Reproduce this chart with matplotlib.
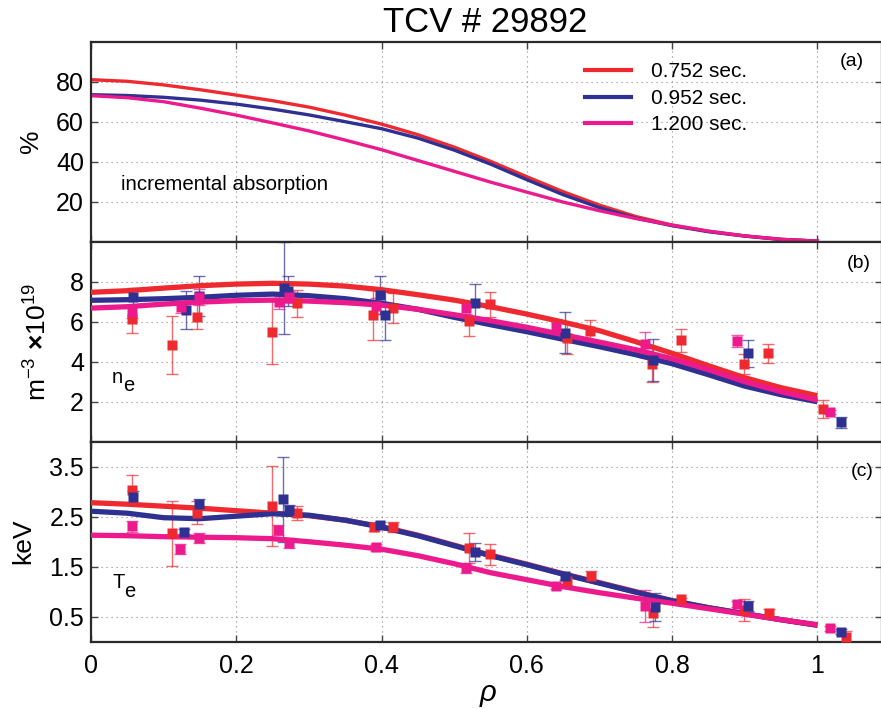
import matplotlib
matplotlib.use("Agg")
import matplotlib.pyplot as plt

plt.rcParams["font.family"] = ["Liberation Sans", "DejaVu Sans"]
plt.rcParams["mathtext.fontset"] = "custom"
plt.rcParams["mathtext.rm"] = "Liberation Sans"
plt.rcParams["mathtext.it"] = "Liberation Sans:italic"
plt.rcParams["mathtext.bf"] = "Liberation Sans:bold"

RED, BLUE, MAG = "#EE2A30", "#2E3192", "#EC1A8C"
times = ["0.752 sec.", "0.952 sec.", "1.200 sec."]

# radial grid for the smoothed profiles
rho = [0, 0.05, 0.1, 0.15, 0.2, 0.25, 0.3, 0.35, 0.4, 0.45, 0.5,
       0.55, 0.6, 0.65, 0.7, 0.75, 0.8, 0.85, 0.9, 0.95, 1.0]

# (a) incremental absorption, %
abs_752 = [81, 80.2, 78.4, 76.0, 73.3, 70.5, 67.3, 63.3, 58.8, 53.5, 47.3,
           40.2, 32.5, 25.0, 18.3, 12.6, 8.3, 5.2, 2.9, 1.2, 0.3]
abs_952 = [73.5, 73.1, 72.2, 70.8, 68.8, 66.3, 63.4, 60.0, 56.5, 51.8, 45.8,
           38.8, 31.0, 23.5, 17.0, 11.8, 8.0, 5.0, 2.8, 1.1, 0.3]
abs_1200 = [73.0, 72.0, 70.0, 66.8, 63.3, 59.4, 55.4, 50.8, 46.0, 40.6, 35.2,
            29.8, 24.8, 19.8, 15.5, 11.6, 8.3, 5.3, 2.9, 1.2, 0.3]

# (b) density fits, 1e19 m^-3
ne_752 = [7.47, 7.55, 7.68, 7.8, 7.88, 7.92, 7.88, 7.78, 7.6, 7.35, 7.08,
          6.75, 6.38, 5.98, 5.55, 5.0, 4.42, 3.8, 3.2, 2.7, 2.3]
ne_952 = [7.07, 7.1, 7.15, 7.22, 7.32, 7.38, 7.3, 7.15, 6.92, 6.62, 6.22,
          5.85, 5.5, 5.12, 4.75, 4.35, 3.9, 3.35, 2.78, 2.35, 2.0]
ne_1200 = [6.68, 6.75, 6.88, 6.98, 7.05, 7.08, 7.03, 6.95, 6.83, 6.62, 6.35,
           6.05, 5.72, 5.35, 4.98, 4.6, 4.15, 3.6, 3.0, 2.5, 2.08]

# (c) temperature fits, keV
te_752 = [2.78, 2.75, 2.71, 2.67, 2.62, 2.57, 2.52, 2.43, 2.3, 2.13, 1.93,
          1.73, 1.55, 1.36, 1.18, 1.0, 0.82, 0.68, 0.56, 0.44, 0.33]
te_952 = [2.61, 2.57, 2.48, 2.46, 2.51, 2.56, 2.53, 2.43, 2.29, 2.12, 1.92,
          1.72, 1.54, 1.35, 1.17, 0.99, 0.82, 0.68, 0.56, 0.44, 0.33]
te_1200 = [2.13, 2.12, 2.1, 2.09, 2.08, 2.06, 2.0, 1.93, 1.85, 1.72, 1.56,
           1.38, 1.24, 1.1, 0.98, 0.87, 0.77, 0.66, 0.55, 0.44, 0.34]

# Thomson measurements: ne
ne_x_752 = [0.057, 0.111, 0.1455, 0.249, 0.283, 0.388, 0.416, 0.521, 0.549,
            0.656, 0.687, 0.773, 0.812, 0.8995, 0.9326, 1.008]
ne_pts_752 = [6.12, 4.84, 6.25, 5.47, 6.92, 6.33, 6.67, 6.03, 6.87,
              5.2, 5.55, 3.88, 5.08, 3.88, 4.42, 1.62]
ne_err_752 = [0.7, 1.44, 0.63, 1.58, 0.66, 1.25, 0.75, 0.73, 0.64,
              0.8, 0.55, 0.9, 0.57, 0.5, 0.46, 0.45]
ne_x_952 = [0.058, 0.131, 0.149, 0.2657, 0.2717, 0.398, 0.405, 0.528,
            0.6526, 0.774, 0.905, 1.0326]
ne_pts_952 = [7.22, 6.59, 7.3, 7.7, 7.55, 7.33, 6.33, 6.92, 5.45, 4.08, 4.42, 0.97]
ne_err_952 = [0.45, 0.95, 1.0, 2.3, 0.75, 0.95, 1.25, 0.95, 1.02, 1.04, 0.67, 0.29]
ne_x_1200 = [0.057, 0.1235, 0.149, 0.259, 0.273, 0.392, 0.516, 0.64,
             0.763, 0.89, 1.018]
ne_pts_1200 = [6.5, 6.75, 7.25, 6.99, 7.25, 6.78, 6.7, 5.75, 4.87, 5.03, 1.47]
ne_err_1200 = [0.3, 0.3, 0.4, 0.35, 0.3, 0.4, 0.3, 0.3, 0.63, 0.3, 0.1]

# Thomson measurements: Te
te_x_752 = [0.057, 0.112, 0.1455, 0.249, 0.283, 0.39, 0.416, 0.52, 0.549,
            0.656, 0.688, 0.774, 0.812, 0.899, 0.933, 1.039]
te_pts_752 = [3.03, 2.17, 2.58, 2.71, 2.57, 2.29, 2.29, 1.87, 1.75,
              1.22, 1.31, 0.57, 0.85, 0.63, 0.58, 0.1]
te_err_752 = [0.3, 0.65, 0.23, 0.8, 0.14, 0.08, 0.1, 0.3, 0.21,
              0.1, 0.1, 0.28, 0.03, 0.22, 0.08, 0.12]
te_x_952 = [0.058, 0.128, 0.149, 0.265, 0.273, 0.398, 0.528, 0.6526,
            0.7765, 0.905, 1.0326]
te_pts_952 = [2.89, 2.2, 2.75, 2.85, 2.63, 2.33, 1.8, 1.31, 0.7, 0.72, 0.2]
te_err_952 = [0.13, 0.05, 0.1, 0.85, 0.1, 0.07, 0.18, 0.07, 0.28, 0.1, 0.05]
te_x_1200 = [0.057, 0.1225, 0.149, 0.258, 0.273, 0.392, 0.516, 0.64,
             0.763, 0.89, 1.0174]
te_pts_1200 = [2.31, 1.86, 2.08, 2.23, 1.97, 1.89, 1.47, 1.11, 0.72, 0.75, 0.27]
te_err_1200 = [0.11, 0.1, 0.1, 0.1, 0.1, 0.07, 0.1, 0.05, 0.32, 0.06, 0.05]

W, H = 881, 709
fig = plt.figure(figsize=(W / 100, H / 100), dpi=100)


def panel(top):
    # axes box in pixel units, 200 px tall, left spine at x=91
    return fig.add_axes([91 / W, (H - top - 200) / H, 791 / W, 200 / H])


axa, axb, axc = panel(41.7), panel(241.7), panel(441.7)

for ax in (axa, axb, axc):
    ax.set_xlim(0, 1.089)
    ax.set_xticks([0, 0.2, 0.4, 0.6, 0.8, 1.0])
    ax.grid(True, ls=(0, (1, 3.5)), color="#888888", lw=0.8)
    ax.tick_params(direction="in", top=True, right=True, length=5, width=1,
                   color="#444444", labelsize=18, pad=5)
    ax.tick_params(axis="x", pad=9)
    for s in ax.spines.values():
        s.set_linewidth(1.6)
        s.set_color("#2a2a2a")
    if ax is not axc:
        ax.set_xticklabels([])
axc.set_xticklabels(["0", "0.2", "0.4", "0.6", "0.8", "1"])

# (a)
axa.plot(rho, abs_752, color=RED, lw=2.4, label=times[0])
axa.plot(rho, abs_952, color=BLUE, lw=2.4, label=times[1])
axa.plot(rho, abs_1200, color=MAG, lw=2.4, label=times[2])
axa.set_ylim(0, 100)
axa.set_yticks([20, 40, 60, 80])
leg = axa.legend(loc="upper left", bbox_to_anchor=(0.624, 0.897), frameon=False,
                 fontsize=15, handlelength=2.25, handletextpad=0.95,
                 labelspacing=0.36, borderpad=0, borderaxespad=0)
for h in leg.get_lines():
    h.set_linewidth(3)
axa.text(0.038, 0.284, "incremental absorption", transform=axa.transAxes,
         fontsize=14.8, va="center")
axa.text(0.962, 0.9, "(a)", transform=axa.transAxes, fontsize=14,
         ha="center", va="center")


def profiles(ax, fits, meas):
    for y, c in zip(fits, (RED, BLUE, MAG)):
        ax.plot(rho, y, color=c, lw=3.8, zorder=3, solid_capstyle="butt")
    for (x, y, e), c in zip(meas, (RED, BLUE, MAG)):
        ax.errorbar(x, y, yerr=e, fmt="none", ecolor=c, alpha=0.7,
                    elinewidth=1.0, capsize=4.5, capthick=1.0, zorder=2)
        ax.plot(x, y, "s", color=c, ms=6.5, mec="none", zorder=4)


# (b)
profiles(axb, (ne_752, ne_952, ne_1200),
         ((ne_x_752, ne_pts_752, ne_err_752),
          (ne_x_952, ne_pts_952, ne_err_952),
          (ne_x_1200, ne_pts_1200, ne_err_1200)))
axb.set_ylim(0, 10)
axb.set_yticks([2, 4, 6, 8])
axb.text(0.0265, 0.292, "n", transform=axb.transAxes, fontsize=14.5)
axb.text(0.04, 0.252, "e", transform=axb.transAxes, fontsize=14.5)
axb.text(0.97, 0.89, "(b)", transform=axb.transAxes, fontsize=14,
         ha="center", va="center")

# (c)
profiles(axc, (te_752, te_952, te_1200),
         ((te_x_752, te_pts_752, te_err_752),
          (te_x_952, te_pts_952, te_err_952),
          (te_x_1200, te_pts_1200, te_err_1200)))
axc.set_ylim(0, 4)
axc.set_yticks([0.5, 1.5, 2.5, 3.5])
axc.text(0.027, 0.27, "T", transform=axc.transAxes, fontsize=14.5)
axc.text(0.042, 0.222, "e", transform=axc.transAxes, fontsize=14.5)
axc.text(0.975, 0.853, "(c)", transform=axc.transAxes, fontsize=14,
         ha="center", va="center")

# axis labels and title
fig.text(31 / W, 1 - 141.7 / H, "%", rotation=90, fontsize=19,
         ha="center", va="center")
fig.text(38 / W, 1 - 341.7 / H, r"m$^{-3}$ $\mathbf{\times}$10$^{19}$",
         rotation=90, fontsize=19, ha="center", va="center")
fig.text(23 / W, 1 - 541.7 / H, "keV", rotation=90, fontsize=19,
         ha="center", va="center")
fig.text(488 / W, 1 - 693 / H, "ρ", fontsize=21, style="italic",
         ha="center", va="center")
fig.text(485 / W, 1 - 31.7 / H, "TCV # 29892", fontsize=25,
         ha="center", va="baseline")

fig.savefig("out.png", dpi=100)
